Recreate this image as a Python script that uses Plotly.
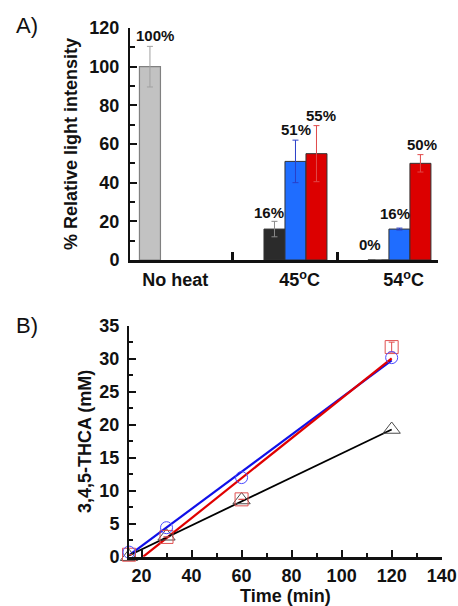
import plotly.graph_objects as go

# ---------------- Panel A data ----------------
groups = ["No heat", "45<sup>o</sup>C", "54<sup>o</sup>C"]
noheat_val = [100]
noheat_err = [10.5]
noheat_lbl = ["100%"]
black_val = [16, 0]          # 45C, 54C
black_err = [4, 0]
black_lbl = ["16%", "0%"]
blue_val = [51, 16]          # 45C, 54C
blue_err = [11, 0.5]
blue_lbl = ["51%", "16%"]
red_val = [55, 50]           # 45C, 54C
red_err = [14.5, 4.5]
red_lbl = ["55%", "50%"]
yA_ticks = [0, 20, 40, 60, 80, 100, 120]

# ---------------- Panel B data ----------------
time_min = [15, 30, 60, 120]
blue_pts = [0.7, 4.4, 12.0, 30.2]
red_pts = [0.3, 3.0, 8.7, 31.8]
red_pts_err = [0, 0, 0, 0.75]
black_pts = [0.0, 3.1, 8.6, 19.3]
blue_fit_x = [15, 120]
blue_fit_y = [0.2, 29.8]
red_fit_x = [20.7, 120]
red_fit_y = [0.0, 30.1]
black_fit_x = [15, 120]
black_fit_y = [0.2, 19.3]

# ---------------- layout helpers ----------------
W, H = 458, 606
FONT = "Liberation Sans, Arial, sans-serif"
centers = [1.95, 7.88, 12.83]       # group centres (bar-width units)
dividers = [4.9, 9.86]
label_pos = [c + 0.2 for c in centers]

def px_x(a, b):
    return [a / W, b / W]

def px_y(top, bottom):
    return [1 - bottom / H, 1 - top / H]

fig = go.Figure()

bar_line = dict(color="#333333", width=1)

# No heat gray bar
fig.add_trace(go.Bar(
    x=[centers[0] - 1], y=noheat_val, width=1,
    marker=dict(color="#c2c2c2", line=dict(color="#808080", width=1.2)),
    error_y=dict(type="data", array=noheat_err, color="#a0a0a0", thickness=1, width=3),
    xaxis="x", yaxis="y", showlegend=False))
# Black bars
fig.add_trace(go.Bar(
    x=[centers[1] - 1, centers[2] - 1], y=black_val, width=1,
    marker=dict(color="#2b2b2b", line=bar_line),
    error_y=dict(type="data", array=black_err, color="#8a8a8a", thickness=1, width=3),
    xaxis="x", yaxis="y", showlegend=False))
# Blue bars
fig.add_trace(go.Bar(
    x=[centers[1], centers[2]], y=blue_val, width=1,
    marker=dict(color="#1f6dff", line=bar_line),
    error_y=dict(type="data", array=blue_err, color="#2a3fc8", thickness=1, width=3),
    xaxis="x", yaxis="y", showlegend=False))
# Red bars
fig.add_trace(go.Bar(
    x=[centers[1] + 1, centers[2] + 1], y=red_val, width=1,
    marker=dict(color="#dc0000", line=bar_line),
    error_y=dict(type="data", array=red_err, color="#e04848", thickness=1, width=3),
    xaxis="x", yaxis="y", showlegend=False))

annotations = []
def bar_label(x, y, text, xshift=0, yshift=0):
    annotations.append(dict(x=x, y=y, xref="x", yref="y", text=text, showarrow=False,
                            yanchor="bottom", xanchor="center", xshift=xshift, yshift=yshift,
                            font=dict(family=FONT, size=15, color="#111")))

bar_label(centers[0] - 1, noheat_val[0] + noheat_err[0], "<b>%s</b>" % noheat_lbl[0], xshift=5)
bar_label(centers[1] - 1, black_val[0] + black_err[0], "<b>%s</b>" % black_lbl[0], xshift=-5, yshift=-2)
bar_label(centers[2] - 1, black_val[1], "<b>%s</b>" % black_lbl[1], xshift=-8, yshift=5)
bar_label(centers[1], blue_val[0] + blue_err[0], "<b>%s</b>" % blue_lbl[0], xshift=1)
bar_label(centers[2], blue_val[1] + blue_err[1], "<b>%s</b>" % blue_lbl[1], xshift=-4, yshift=4)
bar_label(centers[1] + 1, red_val[0] + red_err[0], "<b>%s</b>" % red_lbl[0], xshift=5)
bar_label(centers[2] + 1, red_val[1] + red_err[1], "<b>%s</b>" % red_lbl[1], xshift=2)

# ---------------- Panel B traces ----------------
fig.add_trace(go.Scatter(x=blue_fit_x, y=blue_fit_y, mode="lines",
                         line=dict(color="#1010e8", width=2.2), xaxis="x2", yaxis="y2",
                         showlegend=False))
fig.add_trace(go.Scatter(x=red_fit_x, y=red_fit_y, mode="lines",
                         line=dict(color="#e00000", width=2.2), xaxis="x2", yaxis="y2",
                         showlegend=False))
fig.add_trace(go.Scatter(x=black_fit_x, y=black_fit_y, mode="lines",
                         line=dict(color="#000000", width=1.8), xaxis="x2", yaxis="y2",
                         showlegend=False))
fig.add_trace(go.Scatter(x=time_min, y=black_pts, mode="markers",
                         marker=dict(symbol="triangle-up-open", size=15, color="#4a4a4a",
                                     line=dict(width=1)),
                         xaxis="x2", yaxis="y2", cliponaxis=False, showlegend=False))
fig.add_trace(go.Scatter(x=time_min, y=red_pts, mode="markers",
                         marker=dict(symbol="square-open", size=13, color="#e05050",
                                     line=dict(width=1)),
                         error_y=dict(type="data", array=red_pts_err, color="#e04848",
                                      thickness=1, width=3),
                         xaxis="x2", yaxis="y2", cliponaxis=False, showlegend=False))
fig.add_trace(go.Scatter(x=time_min, y=blue_pts, mode="markers",
                         marker=dict(symbol="circle-open", size=12, color="#4a4aff",
                                     line=dict(width=1)),
                         xaxis="x2", yaxis="y2", cliponaxis=False, showlegend=False))

# panel letters
annotations.append(dict(x=14 / W, y=1 - 25 / H, xref="paper", yref="paper", text="A)",
                        showarrow=False, xanchor="left", yanchor="middle",
                        font=dict(family=FONT, size=22, color="#111")))
annotations.append(dict(x=14 / W, y=1 - 325 / H, xref="paper", yref="paper", text="B)",
                        showarrow=False, xanchor="left", yanchor="middle",
                        font=dict(family=FONT, size=22, color="#111")))

tickfont = dict(family=FONT, size=18, color="#111")
titlefont = dict(family=FONT, size=18, color="#111")

fig.update_layout(
    width=W, height=H, margin=dict(l=0, r=0, t=0, b=0, autoexpand=False),
    paper_bgcolor="white", plot_bgcolor="white",
    barmode="overlay",
    font=dict(family=FONT, color="#111"),
    annotations=annotations,
    xaxis=dict(domain=px_x(130, 438), range=[0, 308 / 21], anchor="y", automargin=False,
               tickmode="array", tickvals=label_pos,
               ticktext=["<b>%s</b>" % g for g in groups],
               ticks="", showgrid=False, zeroline=False,
               showline=True, linecolor="#111", linewidth=2.5,
               tickfont=tickfont, ticklabelstandoff=2,
               minor=dict(tickmode="array", tickvals=dividers, ticks="inside",
                          ticklen=8, tickwidth=3, tickcolor="#111", showgrid=False)),
    yaxis=dict(domain=px_y(28, 260), range=[0, 120], anchor="x", automargin=False,
               tickmode="array", tickvals=yA_ticks,
               ticktext=["<b>%d</b>" % v for v in yA_ticks],
               ticks="inside", ticklen=7, tickwidth=2, tickcolor="#111",
               minor=dict(dtick=10, ticks="inside", ticklen=5, tickwidth=2, tickcolor="#111"),
               showgrid=False, zeroline=False, showline=True, linecolor="#111", linewidth=2,
               tickfont=tickfont, ticklabelstandoff=5,
               title=dict(text="<b>% Relative light intensity</b>", font=titlefont, standoff=7)),
    xaxis2=dict(domain=px_x(129, 441.7), range=[15, 140], anchor="y2", automargin=False,
                tickmode="linear", tick0=20, dtick=20,
                ticks="inside", ticklen=7, tickwidth=2, tickcolor="#111",
                minor=dict(dtick=10, tick0=0, ticks="inside", ticklen=4, tickwidth=2, tickcolor="#111"),
                showgrid=False, zeroline=False, showline=True, linecolor="#111", linewidth=2.5,
                tickfont=tickfont, tickprefix="<b>", ticksuffix="</b>", ticklabelstandoff=1,
                title=dict(text="<b>Time (min)</b>", font=titlefont, standoff=0)),
    yaxis2=dict(domain=px_y(326, 556.7), range=[0, 35], anchor="x2", automargin=False,
                tickmode="linear", tick0=0, dtick=5,
                ticks="inside", ticklen=7, tickwidth=2, tickcolor="#111",
                minor=dict(dtick=2.5, ticks="inside", ticklen=4, tickwidth=2, tickcolor="#111"),
                showgrid=False, zeroline=False, showline=True, linecolor="#111", linewidth=2,
                tickfont=tickfont, tickprefix="<b>", ticksuffix="</b>", ticklabelstandoff=4,
                title=dict(text="<b>3,4,5-THCA (mM)</b>", font=titlefont, standoff=3)),
)

fig.write_html("out.html", config={"displayModeBar": False},
               post_script="document.body.style.margin='0px';document.body.style.padding='0px';")
